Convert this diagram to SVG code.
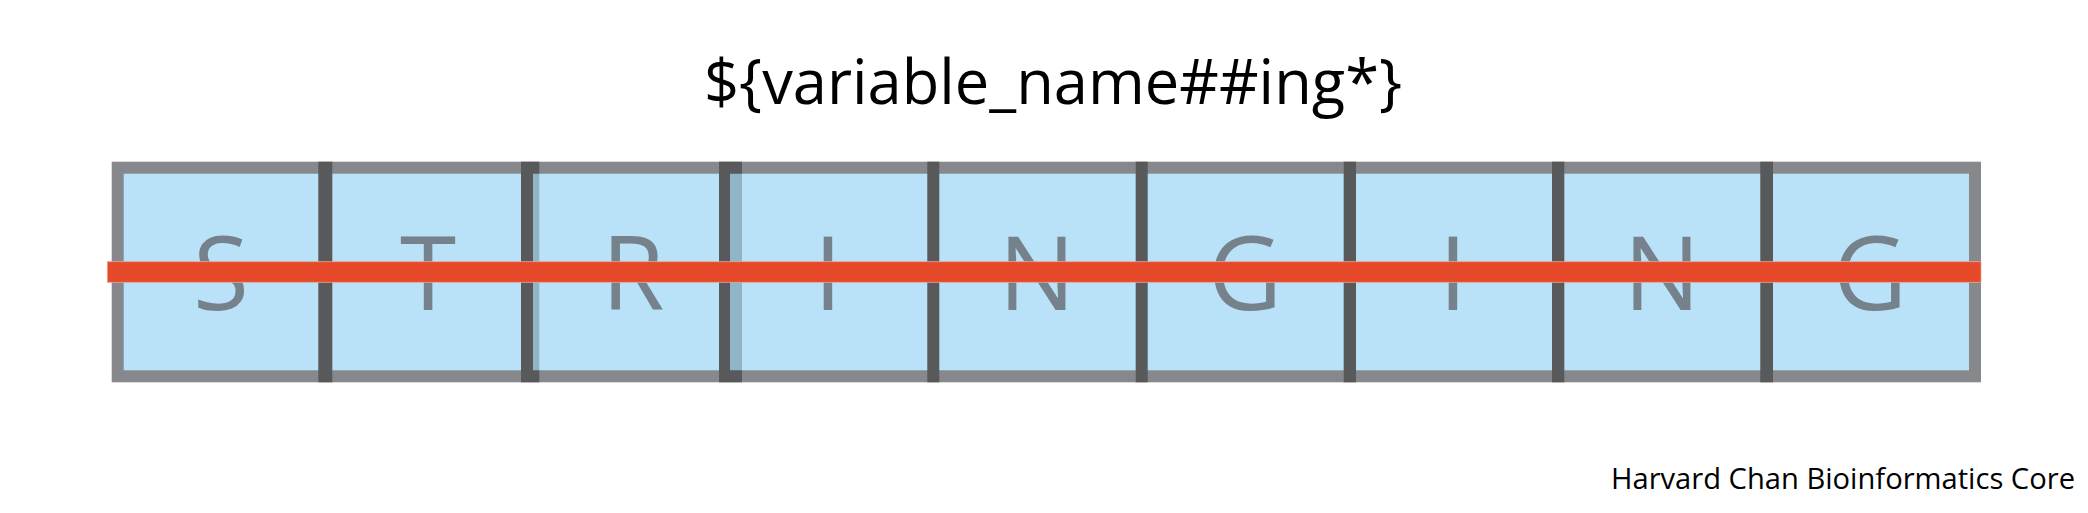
<svg xmlns="http://www.w3.org/2000/svg" width="2088" height="513" viewBox="0 0 2088 513">
  <style>
    .cell { fill: #b9e1f8; }
    .letter { font-family: "Open Sans", "Liberation Sans", sans-serif; font-size: 102px; fill: #76828b; text-anchor: middle; }
    .div { fill: #58595b; }
    .trans { fill: #92b4c7; }
    .title { font-family: "Open Sans", "Liberation Sans", sans-serif; font-size: 63px; fill: #000; }
    .credit { font-family: "Open Sans", "Liberation Sans", sans-serif; font-size: 30px; fill: #000; }
  </style>
  <rect width="2088" height="513" fill="#ffffff"/>

  <text id="title" class="title" x="704" y="104" textLength="698" lengthAdjust="spacingAndGlyphs">${variable_name##ing*}</text>

  <g id="frame">
    <rect class="cell" x="117.7" y="167.7" width="1857.3" height="208.6"/>
    <rect x="117.7" y="167.7" width="1857.3" height="208.6" fill="none" stroke="#87888b" stroke-width="12"/>
  </g>

  <g id="node-S"><text class="letter" x="221" y="310">S</text></g>
  <g id="node-T"><text class="letter" x="428" y="310">T</text></g>
  <g id="node-R"><text class="letter" x="633" y="310">R</text></g>
  <g id="node-I1"><text class="letter" x="828" y="310">I</text></g>
  <g id="node-N1"><text class="letter" x="1037" y="310">N</text></g>
  <g id="node-G1"><text class="letter" x="1245" y="310">G</text></g>
  <g id="node-I2"><text class="letter" x="1453" y="310">I</text></g>
  <g id="node-N2"><text class="letter" x="1662" y="310">N</text></g>
  <g id="node-G2"><text class="letter" x="1870" y="310">G</text></g>

  <g id="dividers">
    <rect class="trans" x="533" y="173.7" width="6.3" height="196.6"/>
    <rect class="trans" x="730" y="173.7" width="12" height="196.6"/>
    <rect class="div" x="318.3" y="161.7" width="14" height="220.6"/>
    <rect class="div" x="521" y="161.7" width="12" height="220.6"/>
    <rect class="div" x="533" y="161.7" width="6.3" height="12"/>
    <rect class="div" x="533" y="370.3" width="6.3" height="12"/>
    <rect class="div" x="719" y="161.7" width="11" height="220.6"/>
    <rect class="div" x="730" y="161.7" width="12" height="12"/>
    <rect class="div" x="730" y="370.3" width="12" height="12"/>
    <rect class="div" x="927.3" y="161.7" width="12" height="220.6"/>
    <rect class="div" x="1135.7" y="161.7" width="12" height="220.6"/>
    <rect class="div" x="1343.7" y="161.7" width="12.3" height="220.6"/>
    <rect class="div" x="1552" y="161.7" width="12.3" height="220.6"/>
    <rect class="div" x="1760.3" y="161.7" width="12.7" height="220.6"/>
  </g>

  <g id="connectors">
    <rect id="cut-line" x="107.3" y="261.7" width="1873.7" height="20.6" fill="#e5492a" stroke="#eaa896" stroke-width="0.8"/>
  </g>

  <text id="credit" class="credit" x="1611" y="489" textLength="464" lengthAdjust="spacingAndGlyphs">Harvard Chan Bioinformatics Core</text>
</svg>
